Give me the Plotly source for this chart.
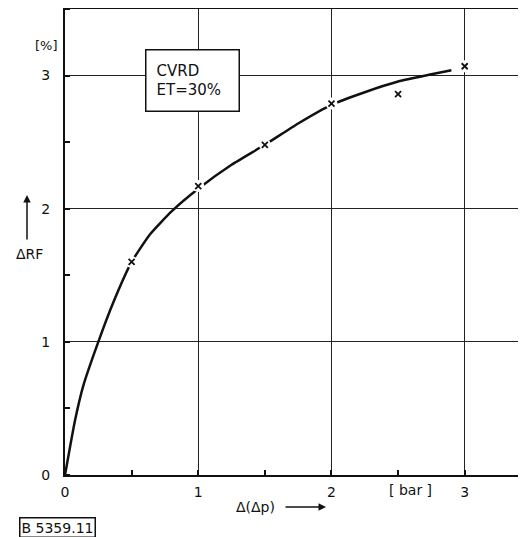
import plotly.graph_objects as go

# measured points (x markers)
pt_x = [0.5, 1.0, 1.5, 2.0, 2.5, 3.0]
pt_y = [1.60, 2.17, 2.48, 2.79, 2.86, 3.07]

# fitted curve
curve_x = [0, 0.075, 0.137, 0.25, 0.36, 0.5, 0.64, 0.8, 1.0, 1.25, 1.5, 1.75, 2.0, 2.25, 2.5, 2.75, 2.9]
curve_y = [0, 0.41, 0.67, 1.0, 1.29, 1.6, 1.81, 1.98, 2.15, 2.33, 2.48, 2.64, 2.78, 2.875, 2.955, 3.01, 3.04]

x_ticks = [0, 1, 2, 3]
y_ticks = [0, 1, 2, 3]

FONT = "DejaVu Sans"
INK = "#111111"

fig = go.Figure()
fig.add_trace(go.Scatter(x=curve_x, y=curve_y, mode="lines",
                         line=dict(color=INK, width=2.5, shape="spline", smoothing=0.5),
                         hoverinfo="skip"))
# white halo behind markers to give gaps in the curve
fig.add_trace(go.Scatter(x=pt_x, y=pt_y, mode="markers",
                         marker=dict(symbol="circle", size=12, color="white"),
                         hoverinfo="skip"))
fig.add_trace(go.Scatter(x=pt_x, y=pt_y, mode="markers",
                         marker=dict(symbol="x-thin", size=6, line=dict(color=INK, width=1.8))))

OFF = 8  # page body margin
W, H = 526 - OFF, 537 - OFF
# target pixel positions in the window
PL, PR, PT, PB = 65, 526, 9, 475
L, T = PL - OFF, PT - OFF
R = (W + OFF) - PR
B = (H + OFF) - PB

def px(xp):
    return (xp - PL) / (PR - PL)

def py(yp):
    return (PB - yp) / (PB - PT)

fig.update_layout(
    width=W, height=H, margin=dict(l=L, r=R, t=T, b=B, pad=0),
    paper_bgcolor="white", plot_bgcolor="white", showlegend=False,
    font=dict(family=FONT, size=14, color=INK),
    xaxis=dict(range=[0, 3.46], tickvals=x_ticks, ticktext=[str(v) for v in x_ticks],
               showgrid=True, gridcolor="#222222", gridwidth=1,
               showline=True, linecolor=INK, linewidth=2, mirror=True,
               ticks="", zeroline=False, ticklabelstandoff=3,
               minor=dict(dtick=0.5, tick0=0, ticks="inside", ticklen=5, tickcolor=INK, tickwidth=1.5, showgrid=False),
               tickfont=dict(size=14, family=FONT)),
    yaxis=dict(range=[0, 3.5], tickvals=y_ticks, ticktext=[str(v) for v in y_ticks],
               showgrid=True, gridcolor="#222222", gridwidth=1,
               showline=True, linecolor=INK, linewidth=2, mirror=False,
               ticks="", zeroline=False, ticklabelstandoff=10,
               minor=dict(dtick=0.5, tick0=0, ticks="inside", ticklen=5, tickcolor=INK, tickwidth=1.5, showgrid=False),
               tickfont=dict(size=14, family=FONT)),
)

def label(x, y, text, size=14, **kw):
    d = dict(xref="paper", yref="paper", x=x, y=y, text=text, showarrow=False,
             xanchor="center", yanchor="middle", font=dict(size=size, family=FONT, color=INK))
    d.update(kw)
    return d

ann = []
ann.append(label(px(46), py(45), "[%]", 13))
ann.append(dict(xref="x", yref="y", x=0.956, y=2.96, text="CVRD<br>ET=30%", showarrow=False,
                xanchor="center", yanchor="middle",
                align="left", bordercolor=INK, borderwidth=1.5, borderpad=10, bgcolor="white",
                width=72, height=40, font=dict(size=15, family=FONT, color=INK)))
ann.append(label(px(29), py(254), "ΔRF", 14))
ann.append(dict(xref="paper", yref="paper", x=px(27), y=py(195), ax=0, ay=46, text="",
                showarrow=True, arrowhead=2, arrowsize=1, arrowwidth=1.5, arrowcolor=INK))
ann.append(label(px(255), py(507), "Δ(Δp)", 14))
ann.append(dict(xref="paper", yref="paper", x=px(326), y=py(507), ax=-42, ay=0, text="",
                showarrow=True, arrowhead=2, arrowsize=1, arrowwidth=1.5, arrowcolor=INK))
ann.append(dict(xref="x", yref="paper", x=2.59, y=py(490), text="[ bar ]", showarrow=False,
                xanchor="center", yanchor="middle", font=dict(size=14, family=FONT, color=INK)))
ann.append(label(px(57), py(527), "B 5359.11", 14, bordercolor=INK, borderwidth=1.5, borderpad=1))
fig.update_layout(annotations=ann)

fig.write_html("out.html")
